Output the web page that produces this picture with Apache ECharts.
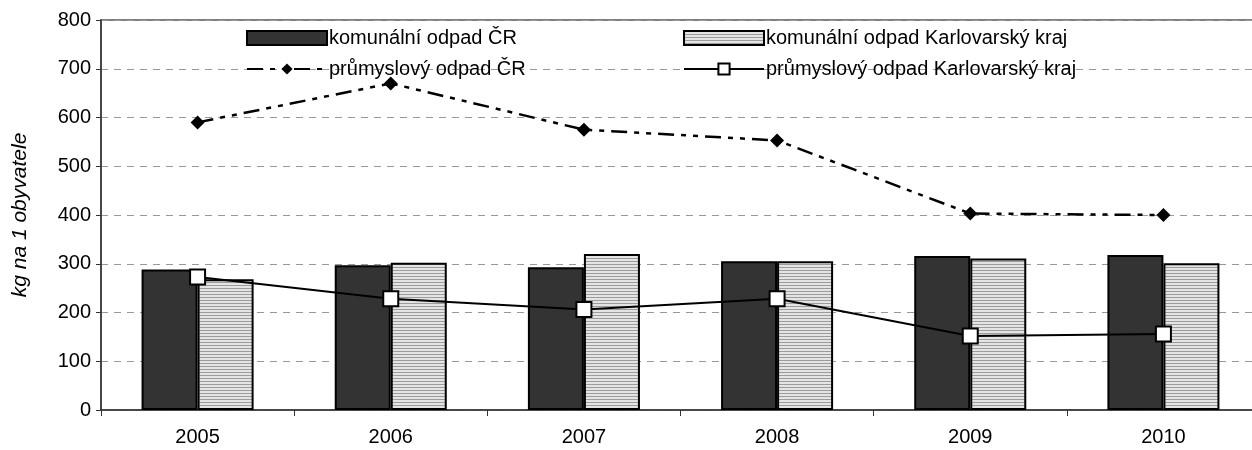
<!DOCTYPE html>
<html>
<head>
<meta charset="utf-8">
<script src="https://cdn.jsdelivr.net/npm/echarts@6/dist/echarts.min.js"></script>
<style>
  html, body { margin: 0; padding: 0; background: #fff; }
  #chart { width: 1252px; height: 450px; }
</style>
</head>
<body>
<div id="chart"></div>
<script>
// data
const years = ['2005', '2006', '2007', '2008', '2009', '2010']
const komunalniCR = [288, 297, 293, 305, 316, 318]
const komunalniKK = [268, 302, 320, 305, 311, 301]
const prumyslovyCR = [590, 670, 575, 553, 403, 400]
const prumyslovyKK = [273, 228, 206, 228, 152, 156]
const names = [
  'komunální odpad ČR',
  'komunální odpad Karlovarský kraj',
  'průmyslový odpad ČR',
  'průmyslový odpad Karlovarský kraj'
]

// horizontal stripes for the light bars
const stripe = document.createElement('canvas')
stripe.width = 4
stripe.height = 3
const ctx = stripe.getContext('2d')
ctx.fillStyle = '#e4e4e4'
ctx.fillRect(0, 0, 4, 3)
ctx.fillStyle = '#9c9c9c'
ctx.fillRect(0, 0, 4, 1)

const font = 'Liberation Sans, Arial, sans-serif'

const legendBase = {
  orient: 'vertical',
  top: 28,
  itemWidth: 80,
  itemHeight: 14,
  itemGap: 11,
  padding: 0,
  textStyle: { fontFamily: font, fontSize: 20, color: '#000', padding: [0, 0, 0, -3] }
}

let chart = echarts.init(document.getElementById('chart'))
chart.setOption({
  animation: false,
  textStyle: { fontFamily: font },
  grid: {
    left: 101, width: 1159, top: 20, bottom: 40,
    outerBoundsMode: 'none',
    show: true, borderColor: '#808080', borderWidth: 2
  },
  legend: [
    Object.assign({}, legendBase, {
      left: 246,
      data: [{ name: names[0], icon: 'rect' }, { name: names[2] }]
    }),
    Object.assign({}, legendBase, {
      left: 683,
      data: [{ name: names[1], icon: 'rect' }, { name: names[3] }]
    })
  ],
  xAxis: {
    type: 'category',
    data: years,
    axisLine: { lineStyle: { color: '#333', width: 1.5 } },
    axisTick: { show: true, length: 6, lineStyle: { color: '#333' } },
    axisLabel: { color: '#000', fontSize: 20, margin: 17 }
  },
  yAxis: {
    type: 'value',
    min: 0, max: 800, interval: 100,
    name: 'kg na 1 obyvatele',
    nameLocation: 'middle',
    nameGap: 70,
    nameTextStyle: { fontStyle: 'italic', fontSize: 21, color: '#000' },
    axisLine: { show: true, lineStyle: { color: '#333', width: 1.5 } },
    axisTick: { show: true, length: 5, lineStyle: { color: '#333' } },
    axisLabel: { color: '#000', fontSize: 20, margin: 10 },
    splitLine: { lineStyle: { color: '#999', type: [7, 6] } }
  },
  series: [
    {
      name: names[0], type: 'bar', data: komunalniCR,
      barGap: '0%', barCategoryGap: '42%',
      itemStyle: { color: '#333333', borderColor: '#000', borderWidth: 2 }
    },
    {
      name: names[1], type: 'bar', data: komunalniKK,
      itemStyle: { color: { image: stripe, repeat: 'repeat' }, borderColor: '#000', borderWidth: 2 }
    },
    {
      name: names[2], type: 'line', data: prumyslovyCR,
      symbol: 'diamond', symbolSize: 14,
      lineStyle: { color: '#000', width: 2.5, type: [16, 7, 5, 7, 5, 7] },
      itemStyle: { color: '#000' }
    },
    {
      name: names[3], type: 'line', data: prumyslovyKK,
      symbol: 'rect', symbolSize: 15,
      lineStyle: { color: '#000', width: 2 },
      itemStyle: { color: '#fff', borderColor: '#000', borderWidth: 2 }
    }
  ]
})
</script>
</body>
</html>
